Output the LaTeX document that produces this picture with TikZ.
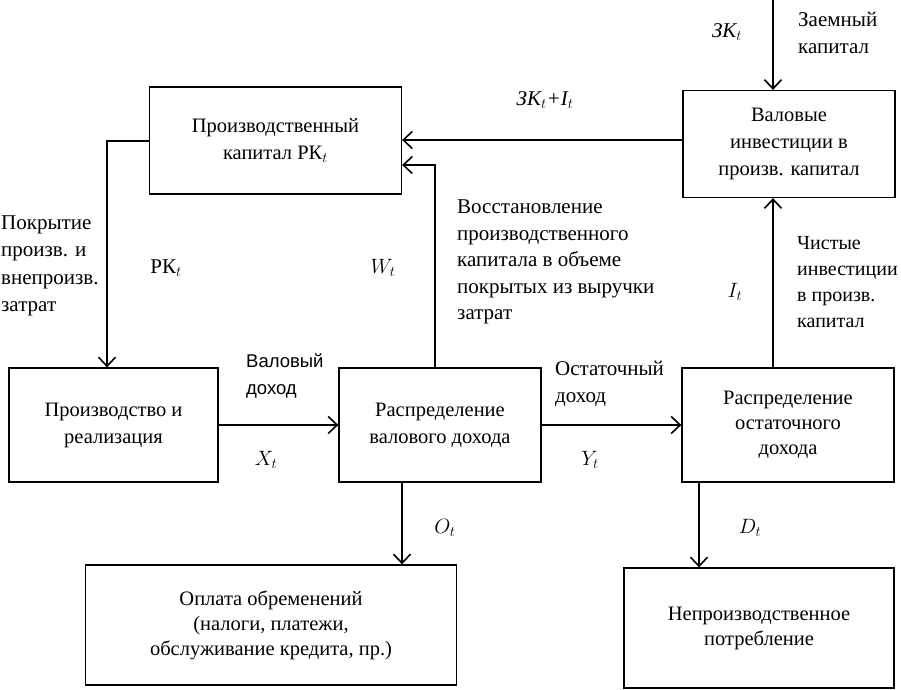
\documentclass[tikz,border=0pt]{standalone}
\usepackage{fontspec}
\setmainfont{Liberation Serif}
\newfontfamily\labelsans{Liberation Sans}
\usetikzlibrary{arrows.meta}
\tikzset{
  block/.style={
    draw=black,
    line width=1.3pt,
    rectangle,
    align=center,
    inner sep=0pt,
    font=\fontsize{20.5}{27}\selectfont
  },
  flow/.style={
    line width=2pt,
    -{Straight Barb[length=9pt,width=17pt,line width=1.6pt]}
  },
  note/.style={inner sep=0pt, align=left, font=\fontsize{21}{27}\selectfont},
  sym/.style={inner sep=0pt, font=\fontsize{21}{24}\selectfont}
}

\begin{document}
\begin{tikzpicture}[x=1pt, y=-1pt]
  \useasboundingbox (0,0) rectangle (901,689);

  % blocks
  \node[block, minimum width=252pt, minimum height=107pt] (pk) at (275.5,140.5)
    {Производственный\\капитал РК$_t$};
  \node[block, minimum width=212pt, minimum height=107pt] (inv) at (789,144)
    {Валовые\\инвестиции в\\произв. капитал};
  \node[block, minimum width=209pt, minimum height=114pt] (prod) at (113.5,425)
    {Производство и\\реализация};
  \node[block, minimum width=202pt, minimum height=114pt] (gross) at (440,425)
    {Распределение\\валового дохода};
  \node[block, minimum width=212pt, minimum height=114pt, font=\fontsize{20.5}{25}\selectfont] (resid) at (788,425)
    {Распределение\\остаточного\\дохода};
  \node[block, minimum width=371pt, minimum height=120pt, font=\fontsize{20.5}{25}\selectfont] (oblig) at (271,625)
    {Оплата обременений\\(налоги, платежи,\\обслуживание кредита, пр.)};
  \node[block, minimum width=270pt, minimum height=120pt, font=\fontsize{20.5}{25}\selectfont] (cons) at (759,628)
    {Непроизводственное\\потребление};

  % connectors
  \coordinate (zk) at (773,0);
  \draw[flow] (zk) -- (zk |- inv.north);
  \draw[flow] ([yshift=4pt]inv.west) -- ([yshift=4pt]inv.west -| pk.east);
  \draw[flow] ([xshift=-5pt]gross.north) |- ([yshift=-24.5pt]pk.east);
  \draw[flow] (pk.west) -| ([xshift=-6.5pt]prod.north);
  \draw[flow] (prod.east) -- (gross.west);
  \draw[flow] (gross.east) -- (resid.west);
  \draw[flow] ([xshift=-15pt]resid.north) -- ([xshift=-15pt]resid.north |- inv.south);
  \draw[flow] ([xshift=-38pt]gross.south) coordinate (o1) -- (o1 |- oblig.north);
  \draw[flow] ([xshift=-89pt]resid.south) coordinate (d1) -- (d1 |- cons.north);

  % labels
  \node[sym] (zkl) at (727,32) {\itshape ЗК$_t$};
  \node[note, anchor=west] (zkn) at (798,33) {Заемный\\капитал};
  \node[sym] (sum) at (545,100) {\itshape ЗК$_t$+I$_t$};
  \node[note, anchor=west, font=\fontsize{21}{27.5}\selectfont] (cover) at (1,266) {Покрытие\\произв. и\\внепроизв.\\затрат};
  \node[sym] (pkl) at (166,268) {РК$_t$};
  \node[sym] (wl) at (383,268) {$W_t$};
  \node[note, anchor=west, font=\fontsize{21}{26.5}\selectfont] (restore) at (457,262)
    {Восстановление\\производственного\\капитала в объеме\\покрытых из выручки\\затрат};
  \node[sym] (il) at (735,292) {$I_t$};
  \node[note, anchor=west, font=\fontsize{20}{26}\selectfont] (net) at (797,282) {Чистые\\инвестиции\\в произв.\\капитал};
  \node[note, anchor=west, font=\labelsans\fontsize{18.5}{27}\selectfont] (grossl) at (246,376) {Валовый\\доход};
  \node[sym] (xl) at (266,460) {$X_t$};
  \node[note, anchor=west] (residl) at (555,384) {Остаточный\\доход};
  \node[sym] (yl) at (590,460) {$Y_t$};
  \node[sym] (ol) at (445,528) {$O_t$};
  \node[sym] (dl) at (750,528) {$D_t$};
\end{tikzpicture}
\end{document}
